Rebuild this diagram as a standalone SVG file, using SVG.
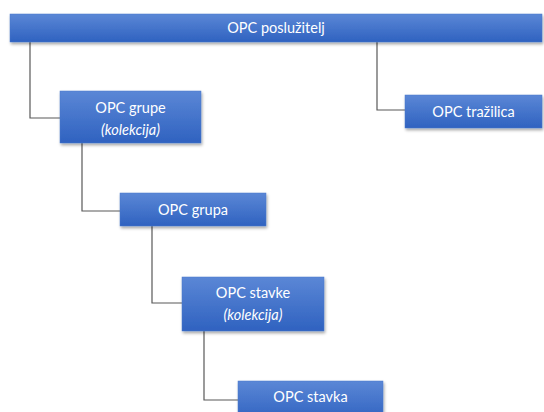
<svg xmlns="http://www.w3.org/2000/svg" width="544" height="412" viewBox="0 0 544 412">
<defs>
<linearGradient id="g" x1="0" y1="0" x2="0" y2="1">
<stop offset="0" stop-color="#5b87d6"/>
<stop offset="1" stop-color="#2f62c0"/>
</linearGradient>
<filter id="sh" x="-10%" y="-20%" width="120%" height="150%">
<feDropShadow dx="1" dy="2" stdDeviation="1.5" flood-color="#000" flood-opacity="0.35"/>
</filter>
</defs>
<style>
.box{fill:url(#g);filter:url(#sh);stroke:#4a78cc;stroke-width:0.5}
.t{font-family:Lato,"Open Sans","Liberation Sans",sans-serif;font-size:14.5px;fill:#ffffff;text-anchor:middle}
.i{font-style:italic}
.c{fill:none;stroke:#595959;stroke-width:1.2}
</style>
<rect width="544" height="412" fill="#ffffff"/>
<g id="connectors">
<path class="c" d="M30,42 V118 H60"/>
<path class="c" d="M377,42 V110 H405"/>
<path class="c" d="M82,143 V211 H120"/>
<path class="c" d="M152,226 V303 H182"/>
<path class="c" d="M204,331 V400 H238"/>
</g>
<g id="server">
<rect class="box" x="10" y="14" width="532" height="28"/>
<text class="t" x="276" y="33">OPC poslužitelj</text>
</g>
<g id="groups">
<rect class="box" x="60" y="91" width="141" height="52"/>
<text class="t" x="130.5" y="112.5">OPC grupe</text>
<text class="t i" x="130.5" y="134.5">(kolekcija)</text>
</g>
<g id="browser">
<rect class="box" x="405" y="95" width="137" height="33"/>
<text class="t" x="473.5" y="116.5">OPC tražilica</text>
</g>
<g id="group">
<rect class="box" x="120" y="193" width="146" height="33"/>
<text class="t" x="193" y="214.5">OPC grupa</text>
</g>
<g id="items">
<rect class="box" x="182" y="277" width="142" height="54"/>
<text class="t" x="253" y="298">OPC stavke</text>
<text class="t i" x="253" y="320">(kolekcija)</text>
</g>
<g id="item">
<rect class="box" x="238" y="381" width="145" height="40"/>
<text class="t" x="310.5" y="402">OPC stavka</text>
</g>
</svg>
